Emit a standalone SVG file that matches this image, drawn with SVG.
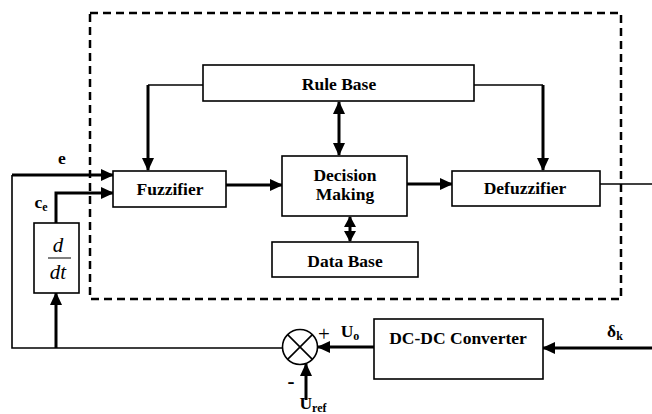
<svg xmlns="http://www.w3.org/2000/svg" width="652" height="414" viewBox="0 0 652 414">
<defs>
<marker id="ah" markerUnits="userSpaceOnUse" markerWidth="13" markerHeight="12" refX="12" refY="6" orient="auto-start-reverse">
<path d="M0,0 L13,6 L0,12 Z" fill="#000"/>
</marker>
<marker id="ahs" markerUnits="userSpaceOnUse" markerWidth="11" markerHeight="12" refX="10" refY="6" orient="auto-start-reverse">
<path d="M0,0 L11,6 L0,12 Z" fill="#000"/>
</marker>
</defs>
<style>
.box{fill:#fff;stroke:#000;stroke-width:1.6}
.t{font-family:"Liberation Serif","Times New Roman","DejaVu Serif",serif;font-weight:bold;font-size:17.5px;text-anchor:middle;fill:#000}
.it{font-family:"Liberation Serif","Times New Roman","DejaVu Serif",serif;font-style:italic;font-size:21px;text-anchor:middle;fill:#000}
.thin{fill:none;stroke:#000;stroke-width:1.6}
.thick{fill:none;stroke:#000;stroke-width:3}
</style>
<rect x="90" y="13" width="531" height="286" fill="none" stroke="#000" stroke-width="2.5" stroke-dasharray="8,5"/>
<g id="connectors">
<polyline class="thin" points="203,85 148,85"/>
<polyline class="thick" points="148,85 148,170" marker-end="url(#ah)"/>
<polyline class="thin" points="474,85 543,85"/>
<polyline class="thick" points="543,85 543,170" marker-end="url(#ah)"/>
<line class="thick" x1="339" y1="102" x2="339" y2="155" marker-start="url(#ah)" marker-end="url(#ah)"/>
<line class="thick" x1="350" y1="217" x2="350" y2="241" marker-start="url(#ahs)" marker-end="url(#ahs)"/>
<line class="thick" x1="226" y1="185" x2="282" y2="185" marker-end="url(#ah)"/>
<line class="thick" x1="407" y1="184" x2="452" y2="184" marker-end="url(#ah)"/>
<line class="thin" x1="600" y1="184" x2="652" y2="184"/>
<polyline class="thick" points="12,175 113,175" marker-end="url(#ah)"/>
<polyline class="thick" points="56,223 56,193 113,193" marker-end="url(#ah)"/>
<polyline class="thin" points="12,175 12,348 282,348"/>
<line class="thick" x1="56" y1="348" x2="56" y2="293" marker-end="url(#ah)"/>
<line class="thick" x1="374" y1="347" x2="318" y2="347" marker-end="url(#ah)"/>
<line class="thick" x1="652" y1="348" x2="543" y2="348" marker-end="url(#ah)"/>
<line class="thick" x1="306" y1="400" x2="306" y2="364" marker-end="url(#ah)"/>
</g>
<g id="rulebase"><rect class="box" x="203" y="65" width="271" height="36"/><text class="t" x="339" y="90">Rule Base</text></g>
<g id="fuzzifier"><rect class="box" x="113" y="171" width="113" height="36"/><text class="t" x="170" y="195">Fuzzifier</text></g>
<g id="decision"><rect class="box" x="282" y="156" width="125" height="60"/><text class="t" x="345" y="181">Decision</text><text class="t" x="345" y="200">Making</text></g>
<g id="database"><rect class="box" x="272" y="242" width="146" height="35"/><text class="t" x="345" y="267">Data Base</text></g>
<g id="defuzzifier"><rect class="box" x="452" y="171" width="148" height="35"/><text class="t" x="525" y="194">Defuzzifier</text></g>
<g id="ddt"><rect class="box" x="34" y="223" width="45" height="70"/>
<text class="it" x="58" y="252">d</text>
<line x1="48" y1="258" x2="71" y2="258" stroke="#000" stroke-width="1"/>
<text class="it" x="58" y="279">dt</text></g>
<g id="sum"><circle cx="300" cy="347" r="17.5" fill="#fff" stroke="#000" stroke-width="1.6"/>
<line x1="287.6" y1="334.6" x2="312.4" y2="359.4" stroke="#000" stroke-width="1.6"/>
<line x1="312.4" y1="334.6" x2="287.6" y2="359.4" stroke="#000" stroke-width="1.6"/></g>
<g id="converter"><rect class="box" x="374" y="319" width="169" height="60"/><text class="t" x="458" y="344">DC-DC Converter</text></g>
<g id="labels">
<text class="t" x="62" y="164">e</text>
<text class="t" x="41" y="208">c<tspan font-size="12" dy="3">e</tspan></text>
<text x="324" y="341" font-family="Liberation Serif,serif" font-size="21" text-anchor="middle">+</text>
<text class="t" x="350" y="337">U<tspan font-size="12" dy="3">o</tspan></text>
<text x="291" y="388" font-family="Liberation Serif,serif" font-size="21" font-weight="bold" text-anchor="middle">-</text>
<text class="t" x="313" y="409">U<tspan font-size="12" dy="3">ref</tspan></text>
<text class="t" x="615" y="337">δ<tspan font-size="12" dy="3">k</tspan></text>
</g>
</svg>
